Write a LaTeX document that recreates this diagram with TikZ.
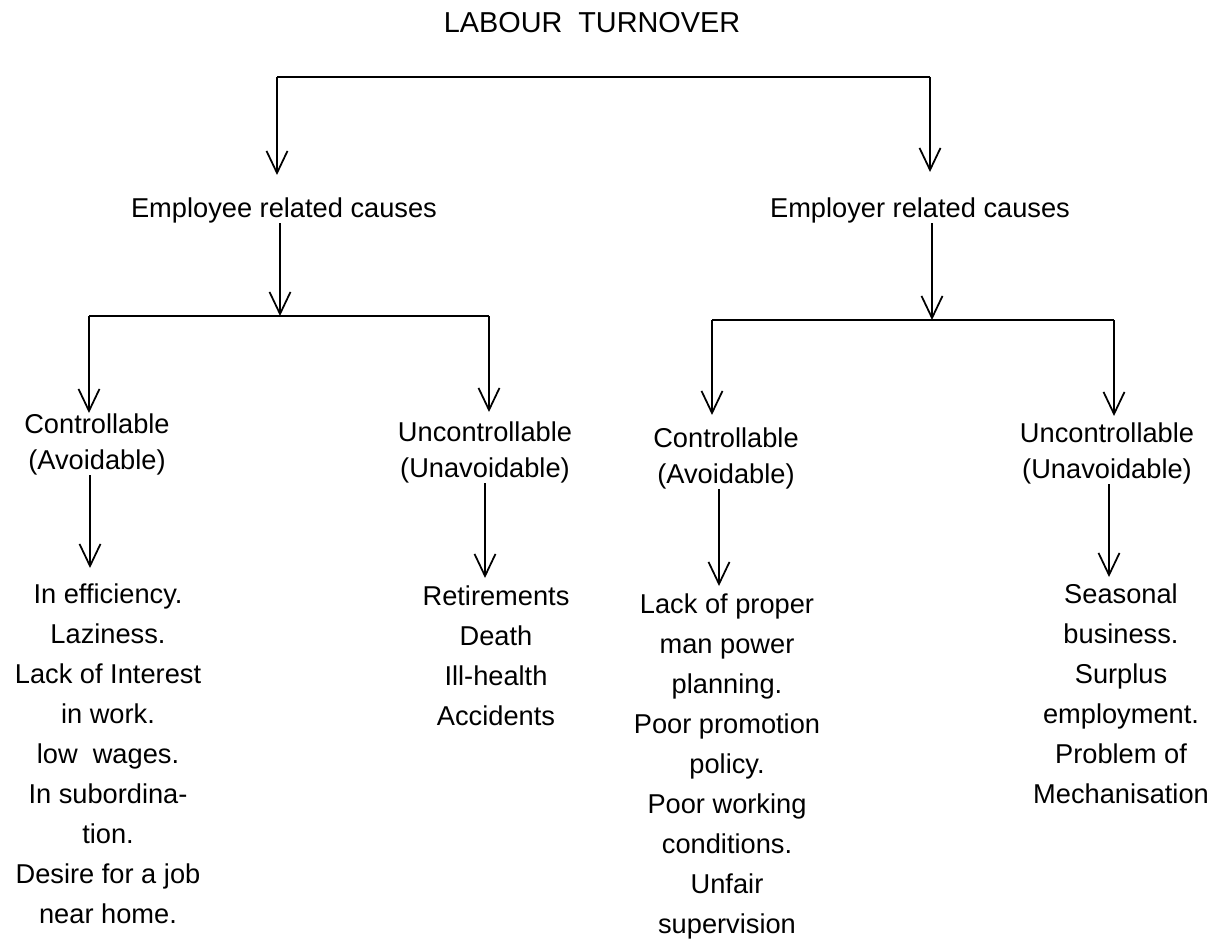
\documentclass[tikz,border=0pt]{standalone}
\usepackage{fontspec}
\setmainfont{Liberation Sans}
\usepackage{tikz}
\usetikzlibrary{arrows.meta}

\tikzset{
  head/.style={inner sep=0pt,align=center,font=\fontsize{15.5}{20.5}\selectfont},
  items/.style={inner sep=0pt,align=center,font=\fontsize{15.5}{22.76}\selectfont},
  bar/.style={line width=1.5pt},
  link/.style={line width=1pt,-{Straight Barb[length=4.4mm,width=4.2mm]}}
}

\begin{document}
\begin{tikzpicture}[x=0.2mm,y=-0.2mm]
\useasboundingbox (0,0) rectangle (1220,940);
\node[head,anchor=north,font=\fontsize{16.4}{20}\selectfont] (title) at (592,12) {LABOUR\ \ TURNOVER};
\node[head,anchor=north] (employee) at (284,197) {Employee related causes};
\node[head,anchor=north] (employer) at (920,197) {Employer related causes};
\node[head,anchor=north] (ectrl) at (97,413) {Controllable\\(Avoidable)};
\node[head,anchor=north] (eunctrl) at (485,421) {Uncontrollable\\(Unavoidable)};
\node[head,anchor=north] (rctrl) at (726,427) {Controllable\\(Avoidable)};
\node[head,anchor=north] (runctrl) at (1107,422) {Uncontrollable\\(Unavoidable)};
\node[items,anchor=north] (elist) at (108,583) {In efficiency.\\Laziness.\\Lack of Interest\\in work.\\low\ \ wages.\\In subordina-\\tion.\\Desire for a job\\near home.};
\node[items,anchor=north] (ulist) at (496,585) {Retirements\\Death\\Ill-health\\Accidents};
\node[items,anchor=north] (rlist) at (727,593) {Lack of proper\\man power\\planning.\\Poor promotion\\policy.\\Poor working\\conditions.\\Unfair\\supervision};
\node[items,anchor=north] (slist) at (1121,583) {Seasonal\\business.\\Surplus\\employment.\\Problem of\\Mechanisation};

\coordinate (barL) at (277,77);
\coordinate (barR) at (930,77);
\coordinate (eFork) at (280,316);
\coordinate (eForkL) at (89,316);
\coordinate (eForkR) at (489,316);
\coordinate (rFork) at (932,320);
\coordinate (rForkL) at (712,320);
\coordinate (rForkR) at (1114,320);
\coordinate (colA) at (90,0);
\coordinate (colB) at (485,0);
\coordinate (colC) at (719,0);
\coordinate (colD) at (1109,0);

\draw[bar] (barL) -- (barR);
\draw[link,shorten >=0.44cm] (barL) -- (barL |- employee.north);
\draw[link,shorten >=0.5cm] (barR) -- (barR |- employer.north);
\draw[link] (employee.south -| eFork) -- (eFork);
\draw[link] (employer.south -| rFork) -- (rFork);
\draw[bar] (eForkL) -- (eForkR);
\draw[bar] (rForkL) -- (rForkR);
\draw[link] (eForkL) -- (eForkL |- ectrl.north);
\draw[link,shorten >=0.18cm] (eForkR) -- (eForkR |- eunctrl.north);
\draw[link,shorten >=0.24cm] (rForkL) -- (rForkL |- rctrl.north);
\draw[link,shorten >=0.12cm] (rForkR) -- (rForkR |- runctrl.north);
\draw[link,shorten >=0.3cm] (ectrl.south -| colA) -- (elist.north -| colA);
\draw[link,shorten >=0.14cm] (eunctrl.south -| colB) -- (ulist.north -| colB);
\draw[link,shorten >=0.14cm] (rctrl.south -| colC) -- (rlist.north -| colC);
\draw[link,shorten >=0.12cm] (runctrl.south -| colD) -- (slist.north -| colD);
\end{tikzpicture}
\end{document}
